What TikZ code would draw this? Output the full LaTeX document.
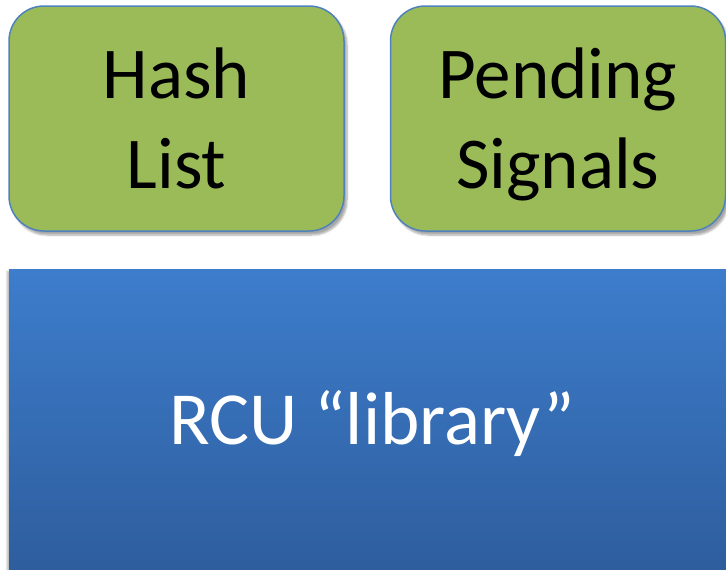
\documentclass[tikz,border=0pt]{standalone}
\usepackage{fontspec}
\setmainfont{Carlito}
\usetikzlibrary{shadows.blur}

\definecolor{boxgreen}{RGB}{155,187,89}
\definecolor{boxedge}{RGB}{79,129,189}
\definecolor{libtop}{RGB}{61,125,204}
\definecolor{libbot}{RGB}{46,93,157}

\tikzset{
  databox/.style={draw=boxedge, line width=1.5pt, fill=boxgreen, rounded corners=35pt,
    minimum width=335pt, minimum height=225pt, align=center,
    font=\fontsize{73}{90}\selectfont, text depth=0pt,
    blur shadow={shadow xshift=3pt, shadow yshift=-4pt, shadow blur steps=6, shadow opacity=35}},
  libbox/.style={top color=libtop, bottom color=libbot, draw=none,
    minimum width=720pt, minimum height=305pt,
    blur shadow={shadow xshift=-2pt, shadow yshift=-2pt, shadow blur steps=5, shadow opacity=30}}
}

\begin{document}
\begin{tikzpicture}[x=1pt,y=-1pt]
\useasboundingbox (0,0) rectangle (726,570);
\clip (0,0) rectangle (726,570);
\node[databox] (hash) at (176.5,118.5) {Hash\\List};
\node[databox] (pending) at (558,118.5) {Pending\\Signals};
\node[libbox, anchor=north west] (rcu) at (9,269) {};
\node[text=white, font=\fontsize{75}{80}\selectfont] (rculabel) at (372,423) {RCU “library”};
\end{tikzpicture}
\end{document}
